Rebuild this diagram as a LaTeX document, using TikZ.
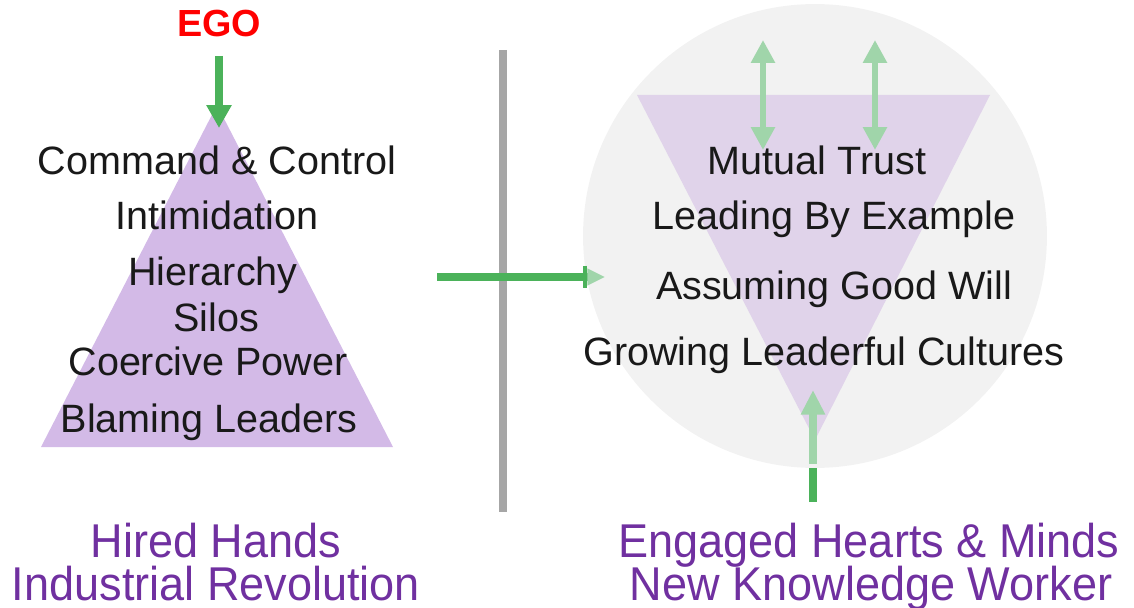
\documentclass[tikz,border=0pt]{standalone}
\usepackage{fontspec}
\setmainfont{Liberation Sans}
\usetikzlibrary{arrows.meta}

\definecolor{lilac}{RGB}{211,186,231}
\definecolor{palelilac}{RGB}{224,211,234}
\definecolor{softgray}{RGB}{242,242,242}
\definecolor{dividergray}{RGB}{166,166,166}
\definecolor{arrowgreen}{RGB}{75,178,90}
\definecolor{palegreen}{RGB}{160,213,170}
\definecolor{egored}{RGB}{255,0,0}
\definecolor{eratext}{RGB}{112,48,160}
\definecolor{darktext}{RGB}{25,25,25}

\tikzset{
  trait/.style={anchor=base, text=darktext, font=\fontsize{22.5}{27}\selectfont},
  era/.style={anchor=base, text=eratext, font=\fontsize{27}{32}\selectfont, xscale=0.95},
  egolabel/.style={anchor=base, text=egored, font=\fontsize{21.5}{26}\selectfont\bfseries},
  greenarrow/.style={draw=arrowgreen, line width=4.5pt, -{Triangle[length=13pt, width=13.6pt]}},
  palearrow/.style={draw=palegreen, line width=4.5pt, -{Triangle[length=14pt, width=13pt]}},
  twoway/.style={draw=palegreen, line width=3.6pt, {Triangle[length=13pt, width=13pt]}-{Triangle[length=13pt, width=13pt]}},
}

\begin{document}
\begin{tikzpicture}[x=0.02cm, y=-0.02cm]
    \useasboundingbox (0,0) rectangle (1134,608);

    \fill[softgray] (815,236) circle [radius=4.64cm];
    \fill[lilac] (41,447) -- (217,105) -- (393,447) -- cycle;
    \fill[palelilac] (637,95) -- (990,95) -- (815,440) -- cycle;
    \draw[dividergray, line width=4.5pt] (503,50) -- (503,512);

    \node[egolabel] (ego) at (219,37) {EGO};
    \node[trait] (command) at (217,174) {Command \& Control};
    \node[trait] (intimidation) at (217,230) {Intimidation};
    \node[trait] (hierarchy) at (213,286) {Hierarchy};
    \node[trait] (silos) at (216,332) {Silos};
    \node[trait] (coercive) at (208,376) {Coercive Power};
    \node[trait] (blaming) at (209,432) {Blaming Leaders};

    \node[trait] (trust) at (817,174) {Mutual Trust};
    \node[trait] (example) at (834,230) {Leading By Example};
    \node[trait] (goodwill) at (834,299) {Assuming Good Will};
    \node[trait] (leaderful) at (824,365) {Growing Leaderful Cultures};

    \node[era] (hands) at (216,557) {Hired Hands};
    \node[era] (industrial) at (216,600) {Industrial Revolution};
    \node[era] (hearts) at (869,557) {Engaged Hearts \& Minds};
    \node[era] (knowledge) at (871,600) {New Knowledge Worker};

    \coordinate (egotip) at (219,128);
    \coordinate (shiftstart) at (437,277);
    \coordinate (shiftend) at (605,277);
    \coordinate (linkAtop) at (763,40);
    \coordinate (linkAbot) at (763,150);
    \coordinate (linkBtop) at (875,40);
    \coordinate (linkBbot) at (875,150);
    \coordinate (rootbase) at (813,502);
    \coordinate (rootjoin) at (813,468);
    \coordinate (rootgap) at (813,464);
    \coordinate (roottip) at (813,390);

    \draw[greenarrow, shorten <=7pt] (ego.south) -- (egotip);
    \draw[draw=arrowgreen, line width=4pt, -{Bar[width=13pt, line width=2.5pt, sep=0pt]Triangle[length=10pt, width=9pt, color=palegreen]}] (shiftstart) -- (shiftend);
    \draw[twoway] (linkAtop) -- (linkAbot);
    \draw[twoway] (linkBtop) -- (linkBbot);
    \draw[arrowgreen, line width=4.5pt] (rootbase) -- (rootjoin);
    \draw[palearrow] (rootgap) -- (roottip);
\end{tikzpicture}
\end{document}
